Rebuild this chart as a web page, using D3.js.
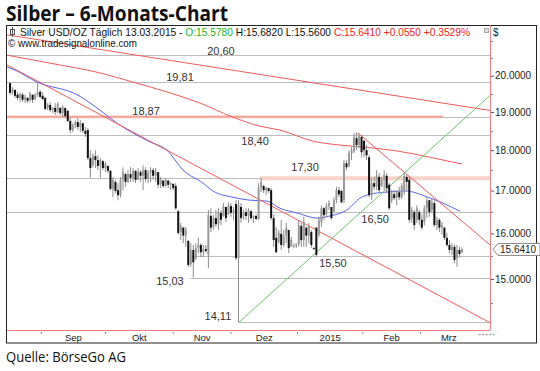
<!DOCTYPE html>
<html lang="de">
<head>
<meta charset="utf-8">
<title>Silber – 6-Monats-Chart</title>
<script src="https://cdn.jsdelivr.net/npm/d3@7"></script>
<style>
  body { margin: 0; background: #fff; }
  svg text { font-family: "Liberation Sans", Arial, sans-serif; }
</style>
</head>
<body>
<script>
// daily candles, [open, high, low, close]
var candles = [
  [19.79,19.82,19.47,19.52],[19.52,19.68,19.47,19.63],[19.60,19.62,19.38,19.44],[19.47,19.55,19.32,19.38],
  [19.38,19.52,19.27,19.50],[19.47,19.52,19.27,19.33],[19.33,19.47,19.24,19.41],[19.38,19.41,19.24,19.30],
  [19.32,19.55,19.27,19.50],[19.47,19.47,19.24,19.33],[19.35,19.52,19.32,19.47],[19.47,19.82,19.41,19.55],
  [19.55,19.60,19.38,19.41],[19.44,19.55,19.32,19.35],[19.38,19.41,19.05,19.08],[19.11,19.24,19.05,19.19],
  [19.19,19.27,19.00,19.05],[19.05,19.13,18.97,19.11],[19.11,19.24,18.92,19.00],[19.00,19.27,18.97,19.22],
  [19.11,19.13,18.92,18.97],[18.97,19.19,18.86,19.13],[19.11,19.11,18.84,18.89],[19.03,19.05,18.73,18.76],
  [18.76,18.86,18.44,18.52],[18.52,18.70,18.47,18.65],[18.65,18.78,18.57,18.73],[18.73,18.84,18.52,18.60],
  [18.60,18.78,18.47,18.70],[18.70,18.70,18.44,18.50],[18.50,18.60,18.34,18.42],[18.52,18.57,17.75,17.80],
  [17.80,18.00,17.31,17.55],[17.62,17.92,17.57,17.85],[17.85,18.00,17.55,17.75],[17.75,17.87,17.50,17.60],
  [17.62,17.80,17.31,17.75],[17.72,17.75,17.50,17.55],[17.55,17.70,17.45,17.65],[17.60,17.62,17.43,17.48],
  [17.48,17.50,17.01,17.04],[17.04,17.33,16.84,17.26],[17.21,17.26,16.94,16.99],[17.01,17.18,16.77,16.89],
  [16.89,17.33,16.84,17.26],[17.26,17.57,17.01,17.45],[17.40,17.43,17.09,17.21],[17.21,17.50,17.18,17.40],
  [17.40,17.57,17.21,17.31],[17.31,17.55,17.21,17.48],[17.48,17.50,17.18,17.26],[17.26,17.55,17.26,17.45],
  [17.45,17.50,17.21,17.36],[17.36,17.62,17.01,17.50],[17.50,17.57,17.21,17.28],[17.28,17.50,17.18,17.43],
  [17.43,17.57,17.21,17.50],[17.50,17.55,17.26,17.36],[17.36,17.55,17.21,17.48],[17.45,17.45,17.06,17.14],
  [17.16,17.33,17.06,17.26],[17.24,17.26,17.06,17.11],[17.11,17.31,17.09,17.26],[17.24,17.26,17.06,17.14],
  [17.14,17.21,17.01,17.18],[17.16,17.18,17.01,17.06],[17.11,17.18,16.54,16.58],[16.51,16.54,15.97,16.01],
  [16.03,16.24,15.85,16.17],[16.13,16.15,15.78,15.95],[15.95,16.15,15.70,16.08],[15.83,15.85,15.26,15.30],
  [15.32,15.78,15.26,15.63],[15.63,15.74,15.03,15.36],[15.45,15.78,15.41,15.67],[15.67,15.90,15.56,15.74],
  [15.74,15.78,15.47,15.58],[15.58,15.74,15.47,15.65],[15.65,15.74,15.56,15.61],[15.52,16.54,15.23,16.42],
  [16.40,16.58,16.03,16.13],[16.15,16.42,16.08,16.35],[16.35,16.54,16.15,16.21],[16.21,16.58,16.08,16.49],
  [16.47,16.54,16.19,16.31],[16.40,16.70,16.38,16.63],[16.61,16.61,16.26,16.35],[16.44,16.72,16.42,16.65],
  [16.63,16.70,16.38,16.47],[16.47,16.61,16.31,16.54],[16.68,16.77,15.41,15.45],[15.45,16.77,14.11,16.65],
  [16.61,16.70,16.24,16.35],[16.38,16.54,16.31,16.49],[16.49,16.58,16.31,16.40],[16.40,16.58,16.24,16.54],
  [16.51,16.54,16.31,16.35],[16.35,16.42,16.24,16.40],[16.40,16.44,16.31,16.33],[16.33,17.18,16.31,17.06],
  [17.06,17.31,16.96,17.21],[17.11,17.14,16.94,17.01],[17.01,17.09,16.89,17.06],[17.06,17.06,16.94,16.99],
  [17.01,17.06,16.31,16.35],[16.35,16.44,15.70,15.85],[15.90,16.15,15.56,15.58],[15.80,16.08,15.78,16.01],
  [15.99,16.31,15.63,15.74],[15.74,16.08,15.70,15.95],[15.95,16.24,15.78,16.13],[16.08,16.08,15.56,15.67],
  [15.70,15.92,15.70,15.85],[15.72,15.78,15.67,15.72],[15.72,15.78,15.67,15.76],[15.76,16.31,15.70,16.19],
  [16.17,16.24,15.70,15.85],[15.85,16.38,15.70,16.26],[16.13,16.15,15.70,15.95],[15.95,16.24,15.78,16.17],
  [16.03,16.08,15.67,15.74],[15.67,15.70,15.63,15.65],[16.13,16.15,15.47,15.52],[15.97,16.38,15.92,16.31],
  [16.26,16.65,16.15,16.58],[16.58,16.61,16.31,16.42],[16.44,16.70,16.38,16.63],[16.63,16.77,16.54,16.70],
  [16.61,16.61,16.31,16.35],[16.51,16.84,16.47,16.77],[16.77,17.09,16.70,17.01],[17.01,17.09,16.84,16.91],
  [16.99,17.01,16.70,16.72],[16.77,17.75,16.70,17.67],[17.67,17.75,17.50,17.57],[17.60,18.00,17.57,17.92],
  [17.92,18.08,17.75,18.00],[17.97,18.44,17.92,18.34],[18.31,18.47,18.00,18.13],[18.13,18.44,18.05,18.36],
  [18.34,18.39,17.82,17.95],[18.24,18.26,17.82,18.00],[18.00,18.13,17.75,17.87],[17.82,17.87,16.84,16.89],
  [16.89,17.31,16.77,17.18],[17.18,17.33,17.01,17.09],[17.09,17.50,17.01,17.36],[17.33,17.43,16.94,17.01],
  [17.11,17.33,17.09,17.26],[17.26,17.50,17.01,17.38],[17.36,17.43,16.94,17.06],[17.14,17.18,16.54,16.58],
  [16.77,17.01,16.70,16.94],[16.91,17.01,16.77,16.82],[16.82,17.01,16.65,16.96],[16.96,17.09,16.77,16.84],
  [16.84,17.18,16.80,17.11],[17.01,17.43,16.89,17.36],[17.33,17.38,17.01,17.21],[17.26,17.33,16.24,16.31],
  [16.35,16.61,16.24,16.54],[16.49,16.54,16.08,16.19],[16.31,16.65,16.24,16.58],[16.49,16.54,16.19,16.31],
  [16.31,16.44,16.08,16.13],[16.26,16.65,16.19,16.58],[16.58,16.84,16.35,16.77],[16.77,16.77,16.38,16.49],
  [16.54,16.80,16.47,16.72],[16.70,16.77,16.15,16.19],[16.19,16.38,16.08,16.31],[16.31,16.35,16.03,16.13],
  [16.13,16.26,15.97,16.19],[16.13,16.15,15.85,15.90],[15.90,16.01,15.70,15.74],[15.74,15.85,15.56,15.63],
  [15.63,15.78,15.52,15.70],[15.70,15.74,15.34,15.41],[15.45,15.74,15.26,15.63],[15.63,15.70,15.47,15.54],
  [15.578,15.682,15.56,15.641]
];

// month boundaries as bar positions, labels sit between them
var monthStarts = [12.5, 38, 65, 88, 114.5, 140.5, 163.5, 186];
var monthLabels = ["Sep", "Okt", "Nov", "Dez", "2015", "Feb", "Mrz"];

var priceTicks = [15, 16, 17, 18, 19, 20];
var minorTicks = [14.5, 15.5, 16.5, 17.5, 18.5, 19.5, 20.5, 21];

// drawn support / resistance levels
var levels      = [20.60, 19.81, 18.87, 18.40, 17.30, 16.50, 15.50, 15.03, 14.11];
var levelLabels = ["20,60", "19,81", "18,87", "18,40", "17,30", "16,50", "15,50", "15,03", "14,11"];
var levelStart  = [-1.2, -1.2, -1.2, -1.2, -1.2, -1.2, 72.5, 71.7, 91.2];

// moving averages, [bar, price]
var maBlue = [[-1.2,20.25],[2,20.16],[10.8,19.82],[26.7,19.47],[35.8,19.05],[42.6,18.70],[49,18.44],
  [55.8,18.21],[62.5,18.00],[68.9,17.50],[76.9,17.18],[80.8,16.99],[88.8,16.84],[95.6,16.77],[102.3,16.75],
  [107.5,16.58],[114.3,16.47],[122.3,16.35],[127.4,16.40],[134.2,16.54],[139.4,16.82],[143.4,16.91],
  [149.3,16.96],[157.3,16.99],[166.5,16.84],[172.4,16.70],[179.2,16.51]];
var maRed = [[-1.2,20.59],[15.9,20.36],[35.8,20.08],[49,19.82],[63.7,19.52],[75.7,19.24],[88.8,18.86],
  [99.6,18.62],[107.5,18.52],[120.7,18.23],[131.4,18.13],[140.6,18.08],[154.1,17.98],[167.3,17.82],[180,17.65]];

// trend lines, two anchor points each [bar, price]
var trendRed = [
  [[-1.2, 21.19], [191.2, 19.04]],
  [[-1.2, 20.31], [191.2, 14.10]],
  [[138.6, 18.44], [191.2, 15.74]]
];
var trendGreen = [[91.2, 14.11], [191.2, 19.45]];

// layout of the level annotations (bar position, vertical offset)
var labelAt = [84, 67.7, 54.2, 97.6, 117.5, 145.4, 128.6, 63.7, 82.8];
var labelDy = [-4, -5.7, -5.8, 6.5, -11.5, 7.5, 7, 3.5, -6.5];

var W = 540, H = 371;
var pL = 7, pR = 490, pT = 25, pB = 330;

var svg = d3.select("body").append("svg")
    .attr("width", W)
    .attr("height", H);

var x = d3.scaleLinear().domain([0, candles.length - 1]).range([10, 462]);
var y = d3.scaleLog().domain([13.956, 21.488]).range([pB, pT]);

svg.append("defs").append("clipPath").attr("id", "plot")
  .append("rect").attr("x", pL).attr("y", pT).attr("width", pR - pL).attr("height", pB - pT);

// title and source
svg.append("text").attr("x", 6).attr("y", 21)
   .attr("font-size", "21px").attr("font-weight", "bold")
   .style("font-family", "'Open Sans', sans-serif")
   .attr("textLength", 222).attr("lengthAdjust", "spacingAndGlyphs")
   .attr("fill", "#111").text("Silber – 6-Monats-Chart");
svg.append("text").attr("x", 6).attr("y", 362)
   .attr("font-size", "14px")
   .style("font-family", "'Open Sans', sans-serif")
   .attr("textLength", 120).attr("lengthAdjust", "spacingAndGlyphs")
   .attr("fill", "#111").text("Quelle: BörseGo AG");

// outer frame
svg.append("rect").attr("x", 6.5).attr("y", 25.5).attr("width", 530).attr("height", 317.5)
   .attr("fill", "none").attr("stroke", "#222");

var plot = svg.append("g").attr("clip-path", "url(#plot)");

// level lines
plot.selectAll("line.level").data(levels).enter().append("line")
  .attr("class", "level")
  .attr("x1", function(d, i) { return x(levelStart[i]); })
  .attr("x2", pR)
  .attr("y1", function(d) { return Math.round(y(d)) + 0.5; })
  .attr("y2", function(d) { return Math.round(y(d)) + 0.5; })
  .attr("stroke", "#bdbdbd").attr("stroke-width", 1.2);

// highlighted zones
plot.append("line").attr("x1", pL).attr("x2", x(172.4))
  .attr("y1", y(18.87)).attr("y2", y(18.87))
  .attr("stroke", "#fbe0db").attr("stroke-width", 3.5);
plot.append("line").attr("x1", pL).attr("x2", x(172.4))
  .attr("y1", y(18.87)).attr("y2", y(18.87))
  .attr("stroke", "#f08a7c").attr("stroke-width", 1.2);
plot.append("line").attr("x1", x(99.6)).attr("x2", pR)
  .attr("y1", y(17.30)).attr("y2", y(17.30))
  .attr("stroke", "#f8d3cb").attr("stroke-width", 4);

var line = d3.line()
    .x(function(d) { return x(d[0]); })
    .y(function(d) { return y(d[1]); });
var smooth = d3.line()
    .x(function(d) { return x(d[0]); })
    .y(function(d) { return y(d[1]); })
    .curve(d3.curveMonotoneX);

plot.append("path").attr("d", smooth(maRed))
  .attr("fill", "none").attr("stroke", "#f05a5a").attr("stroke-width", 1);
plot.append("path").attr("d", smooth(maBlue))
  .attr("fill", "none").attr("stroke", "#5a64f0").attr("stroke-width", 1);

plot.selectAll("path.trend").data(trendRed).enter().append("path")
  .attr("class", "trend")
  .attr("d", line)
  .attr("fill", "none").attr("stroke", "#f05a5a").attr("stroke-width", 1);
plot.append("path").attr("d", line(trendGreen))
  .attr("fill", "none").attr("stroke", "#6cc46c").attr("stroke-width", 1);

// candles
var bars = plot.selectAll("g.candle").data(candles).enter().append("g").attr("class", "candle");
bars.append("line")
  .attr("x1", function(d, i) { return x(i); })
  .attr("x2", function(d, i) { return x(i); })
  .attr("y1", function(d) { return y(d[1]); })
  .attr("y2", function(d) { return y(d[2]); })
  .attr("stroke", "#8c8c8c").attr("stroke-width", 1);
bars.append("rect")
  .attr("x", function(d, i) { return x(i) - 1; })
  .attr("width", 2)
  .attr("y", function(d) { return y(Math.max(d[0], d[3])); })
  .attr("height", function(d) { return Math.max(1, Math.abs(y(d[0]) - y(d[3]))); })
  .attr("fill", function(d) { return d[3] < d[0] ? "#111" : "#9a9a9a"; });

// level annotations
svg.selectAll("text.lvl").data(levels).enter().append("text")
  .attr("class", "lvl")
  .attr("x", function(d, i) { return x(labelAt[i]); })
  .attr("y", function(d, i) { return y(d) + labelDy[i] + 4; })
  .attr("text-anchor", "middle")
  .attr("font-size", "11px").attr("fill", "#333")
  .text(function(d, i) { return levelLabels[i]; });

// plot borders (red)
svg.append("line").attr("x1", pR + 0.5).attr("x2", pR + 0.5).attr("y1", pT).attr("y2", pB)
  .attr("stroke", "#f08080");
svg.append("line").attr("x1", pL).attr("x2", pR).attr("y1", pB + 0.5).attr("y2", pB + 0.5)
  .attr("stroke", "#f08080");

// right price axis
var yAxis = d3.axisRight(y).tickValues(priceTicks).tickFormat(d3.format(".4f")).tickSize(3).tickPadding(1);
var ya = svg.append("g").attr("transform", "translate(" + (pR + 1) + ",0)").call(yAxis);
ya.select(".domain").remove();
ya.selectAll("line").attr("stroke", "#555");
ya.selectAll("text").attr("font-size", "10px").attr("fill", "#222")
  .style("font-family", "'Liberation Sans', Arial, sans-serif");
svg.append("g").selectAll("line").data(minorTicks).enter().append("line")
  .attr("x1", pR + 1).attr("x2", pR + 3)
  .attr("y1", function(d) { return Math.round(y(d)) + 0.5; })
  .attr("y2", function(d) { return Math.round(y(d)) + 0.5; })
  .attr("stroke", "#888");

svg.append("text").attr("x", 493).attr("y", 36).attr("font-size", "10px").attr("fill", "#222").text("$");

// last price marker
var yl = y(candles[candles.length - 1][3]);
svg.append("path")
  .attr("d", "M493," + yl + " L498," + (yl - 6) + " L540," + (yl - 6) + " L540," + (yl + 6) + " L498," + (yl + 6) + " Z")
  .attr("fill", "#fff").attr("stroke", "#888");
svg.append("text").attr("x", 500).attr("y", yl + 3.5).attr("font-size", "10px").attr("fill", "#222")
  .text(d3.format(".4f")(candles[candles.length - 1][3]));

// month axis
var xa = svg.append("g");
xa.selectAll("line").data(monthStarts.slice(0, 7)).enter().append("line")
  .attr("x1", function(d) { return x(d); }).attr("x2", function(d) { return x(d); })
  .attr("y1", pB + 2).attr("y2", pB + 4)
  .attr("stroke", "#888");
xa.selectAll("text").data(monthLabels).enter().append("text")
  .attr("x", function(d, i) { return x((monthStarts[i] + monthStarts[i + 1]) / 2); })
  .attr("y", 341)
  .attr("text-anchor", "middle")
  .attr("font-size", "9.5px").attr("fill", "#222")
  .text(function(d) { return d; });

// header lines
var hdr = svg.append("text").attr("x", 20).attr("y", 35.5).attr("font-size", "10.5px").attr("fill", "#111")
  .attr("textLength", 450).attr("lengthAdjust", "spacingAndGlyphs");
hdr.append("tspan").text("Silver USD/OZ Täglich  13.03.2015 - ");
hdr.append("tspan").attr("fill", "#22b422").text("O:15.5780 ");
hdr.append("tspan").text("H:15.6820 L:15.5600 ");
hdr.append("tspan").attr("fill", "#ee2222").text("C:15.6410 +0.0550 +0.3529%");
svg.append("text").attr("x", 8).attr("y", 47).attr("font-size", "10.5px").attr("fill", "#111")
   .attr("textLength", 129).attr("lengthAdjust", "spacingAndGlyphs")
   .text("© www.tradesignalonline.com");

// small symbol icon, window button and zoom control
svg.append("rect").attr("x", 10.5).attr("y", 29.5).attr("width", 4).attr("height", 5)
   .attr("fill", "none").attr("stroke", "#555");
svg.append("line").attr("x1", 12.5).attr("x2", 12.5).attr("y1", 27).attr("y2", 37).attr("stroke", "#555");
svg.append("rect").attr("x", 484.5).attr("y", 28.5).attr("width", 4).attr("height", 4)
   .attr("fill", "#ddd").attr("stroke", "#aaa");
svg.append("text").attr("x", 478).attr("y", 336).attr("font-size", "6px").attr("fill", "#999").text("+++++ ⁻");
</script>
</body>
</html>
